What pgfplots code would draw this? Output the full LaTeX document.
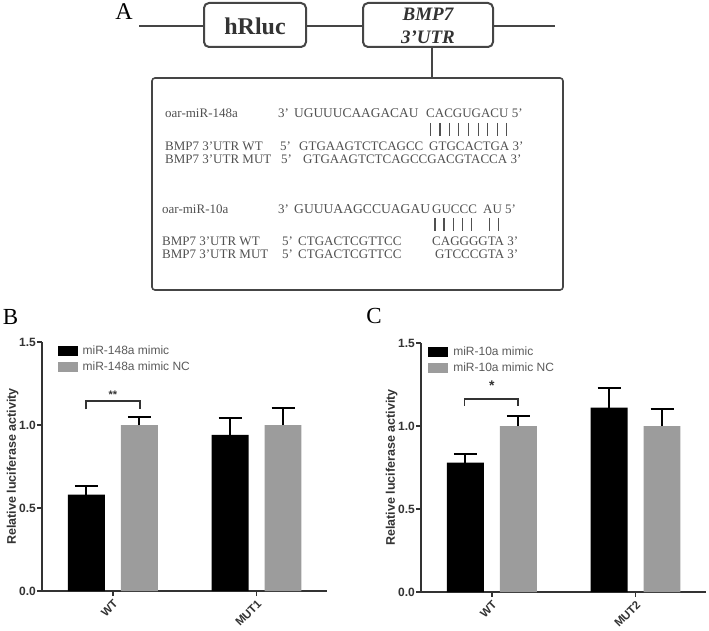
\documentclass[border=0pt]{standalone}
\usepackage{fontspec}
\setmainfont{Liberation Serif}
\setsansfont{Liberation Sans}
\usepackage{pgfplots}
\pgfplotsset{compat=1.18}
\definecolor{axgray}{HTML}{333333}
\definecolor{bargray}{HTML}{9C9C9C}
\definecolor{boxgray}{HTML}{454545}
\definecolor{seqgray}{HTML}{505050}
\definecolor{leggray}{HTML}{5A5A5A}

\pgfplotsset{
  lucaxis/.style={
    scale only axis, width=285pt, height=249pt, anchor=south west,
    ybar, bar width=0.257,
    xmin=-0.493, xmax=1.49, ymin=0, ymax=1.5,
    axis x line=bottom, axis y line=left,
    axis line style={-, line width=1.8pt, axgray},
    tick align=outside, major tick length=5pt,
    tick style={line width=1.5pt, axgray},
    xtick={0,1}, ytick={0,0.5,1,1.5},
    yticklabel style={/pgf/number format/fixed, /pgf/number format/fixed zerofill,
      /pgf/number format/precision=1, /pgf/number format/assume math mode=true,
      font=\sffamily\bfseries\fontsize{12}{12}\selectfont, text=axgray, inner sep=1pt},
    xticklabel style={rotate=45, anchor=north east, inner sep=2pt,
      font=\sffamily\bfseries\fontsize{11.5}{11.5}\selectfont, text=axgray},
    ylabel={Relative luciferase activity},
    ylabel shift=-4pt,
    ylabel style={font=\sffamily\bfseries\fontsize{12.5}{12.5}\selectfont, text=axgray},
    error bars/y dir=plus, error bars/y explicit,
    error bars/error bar style={line width=2pt, black},
    error bars/error mark options={rotate=90, line width=2pt, black, mark size=11.5pt},
    legend style={draw=none, fill=none, inner sep=0pt, row sep=2pt,
      font=\sffamily\fontsize{12}{12}\selectfont, text=leggray},
    legend cell align=left,
    legend image code/.code={\fill[##1] (0pt,-5pt) rectangle (20pt,5pt); \path (23pt,0pt);},
  }
}

\begin{document}
\begin{tikzpicture}[x=1pt,y=1pt]
\useasboundingbox (0,0) rectangle (709,630);

% ---- panel A: construct diagram ----
\begin{scope}[y=-1pt, yshift=630pt]
  \node[font=\fontsize{24}{24}\selectfont] at (124,12) {A};
  \draw[line width=2pt, boxgray] (139,26) -- (555,26);
  \draw[line width=2pt, boxgray] (432,47) -- (432,78);
  \draw[line width=2pt, boxgray, fill=white, rounded corners=5pt] (204,3) rectangle (306,47);
  \node[font=\bfseries\fontsize{24}{24}\selectfont, text=axgray] at (255,26) {hRluc};
  \draw[line width=2pt, boxgray, fill=white, rounded corners=5pt] (363,3) rectangle (493,47);
  \node[font=\bfseries\itshape\fontsize{19}{19}\selectfont, text=axgray] at (428,14) {BMP7};
  \node[font=\bfseries\itshape\fontsize{19}{19}\selectfont, text=axgray] at (428,37) {3'UTR};
  \draw[line width=1.6pt, boxgray, rounded corners=3pt] (152,78) rectangle (563,290);

  \begin{scope}[every node/.style={anchor=west, inner sep=0pt, text=seqgray, font=\fontsize{13}{13}\selectfont}]
    \node at (165,113) {oar-miR-148a};
    \node at (278,113) {3'};
    \node at (294,113) {\fontsize{13.4}{13.4}\selectfont UGUUUCAAGACAU};
    \node at (426,113) {CACGUGACU\ 5'};
    \node at (165,146) {BMP7 3'UTR WT};
    \node at (280,146) {5'};
    \node at (299,146) {GTGAAGTCTCAGCC};
    \node at (429,146) {GTGCACTGA\ 3'};
    \node at (165,159) {BMP7 3'UTR MUT};
    \node at (281,159) {5'};
    \node at (303,159) {GTGAAGTCTCAGCCGACGTACCA\ 3'};

    \node at (162,209) {oar-miR-10a};
    \node at (278,209) {3'};
    \node at (294,209) {\fontsize{13.6}{13.6}\selectfont GUUUAAGCCUAGAU};
    \node at (432,209) {GUCCC};
    \node at (483,209) {AU\ 5'};
    \node at (162,241) {BMP7 3'UTR WT};
    \node at (282,241) {5'};
    \node at (298,241) {CTGACTCGTTCC};
    \node at (432,241) {CAGGGGTA\ 3'};
    \node at (162,254) {BMP7 3'UTR MUT};
    \node at (282,254) {5'};
    \node at (298,254) {CTGACTCGTTCC};
    \node at (435,254) {GTCCCGTA\ 3'};
  \end{scope}
  \foreach \px in {430.7,440,449.3,458.3,468.3,478.3,487.3,497.3,506.7}
    \draw[line width=1.3pt, seqgray] (\px,123) -- (\px,136);
  \foreach \px in {435,444,453.3,462.7,471.7,489.3,498.3}
    \draw[line width=1.3pt, seqgray] (\px,218) -- (\px,231);

  \node[font=\fontsize{23}{23}\selectfont] at (10.5,317.5) {B};
  \node[font=\fontsize{23}{23}\selectfont] at (374,316) {C};
\end{scope}

% ---- panel B ----
\begin{axis}[lucaxis, at={(42pt,39pt)},
  xticklabels={WT, MUT1},
  legend style={at={(axis description cs:0.054,0.995)}, anchor=north west}]
\addplot[fill=black, draw=none, bar shift=-0.184] coordinates {
  (0,0.58) +- (0,0.05)
  (1,0.94) +- (0,0.10)
};
\addplot[fill=bargray, draw=none, bar shift=0.184] coordinates {
  (0,1.00) +- (0,0.05)
  (1,1.00) +- (0,0.10)
};
\legend{miR-148a mimic, miR-148a mimic NC}
\draw[line width=1.6pt, axgray] (axis cs:-0.1875,1.094) -- (axis cs:-0.1875,1.144)
  -- (axis cs:0.1875,1.144) -- (axis cs:0.1875,1.094);
\node[font=\sffamily\bfseries\fontsize{11}{11}\selectfont, text=axgray] at (axis cs:0,1.185) {**};
\end{axis}

% ---- panel C ----
\begin{axis}[lucaxis, at={(421pt,38pt)},
  xticklabels={WT, MUT2},
  legend style={at={(axis description cs:0.025,0.995)}, anchor=north west}]
\addplot[fill=black, draw=none, bar shift=-0.184] coordinates {
  (0,0.78) +- (0,0.05)
  (1,1.11) +- (0,0.12)
};
\addplot[fill=bargray, draw=none, bar shift=0.184] coordinates {
  (0,1.00) +- (0,0.06)
  (1,1.00) +- (0,0.10)
};
\legend{miR-10a mimic, miR-10a mimic NC}
\draw[line width=1.6pt, axgray] (axis cs:-0.19,1.122) -- (axis cs:-0.19,1.162)
  -- (axis cs:0.18,1.162) -- (axis cs:0.18,1.122);
\node[font=\sffamily\bfseries\fontsize{14}{14}\selectfont, text=axgray] at (axis cs:0,1.24) {*};
\end{axis}
\end{tikzpicture}
\end{document}
